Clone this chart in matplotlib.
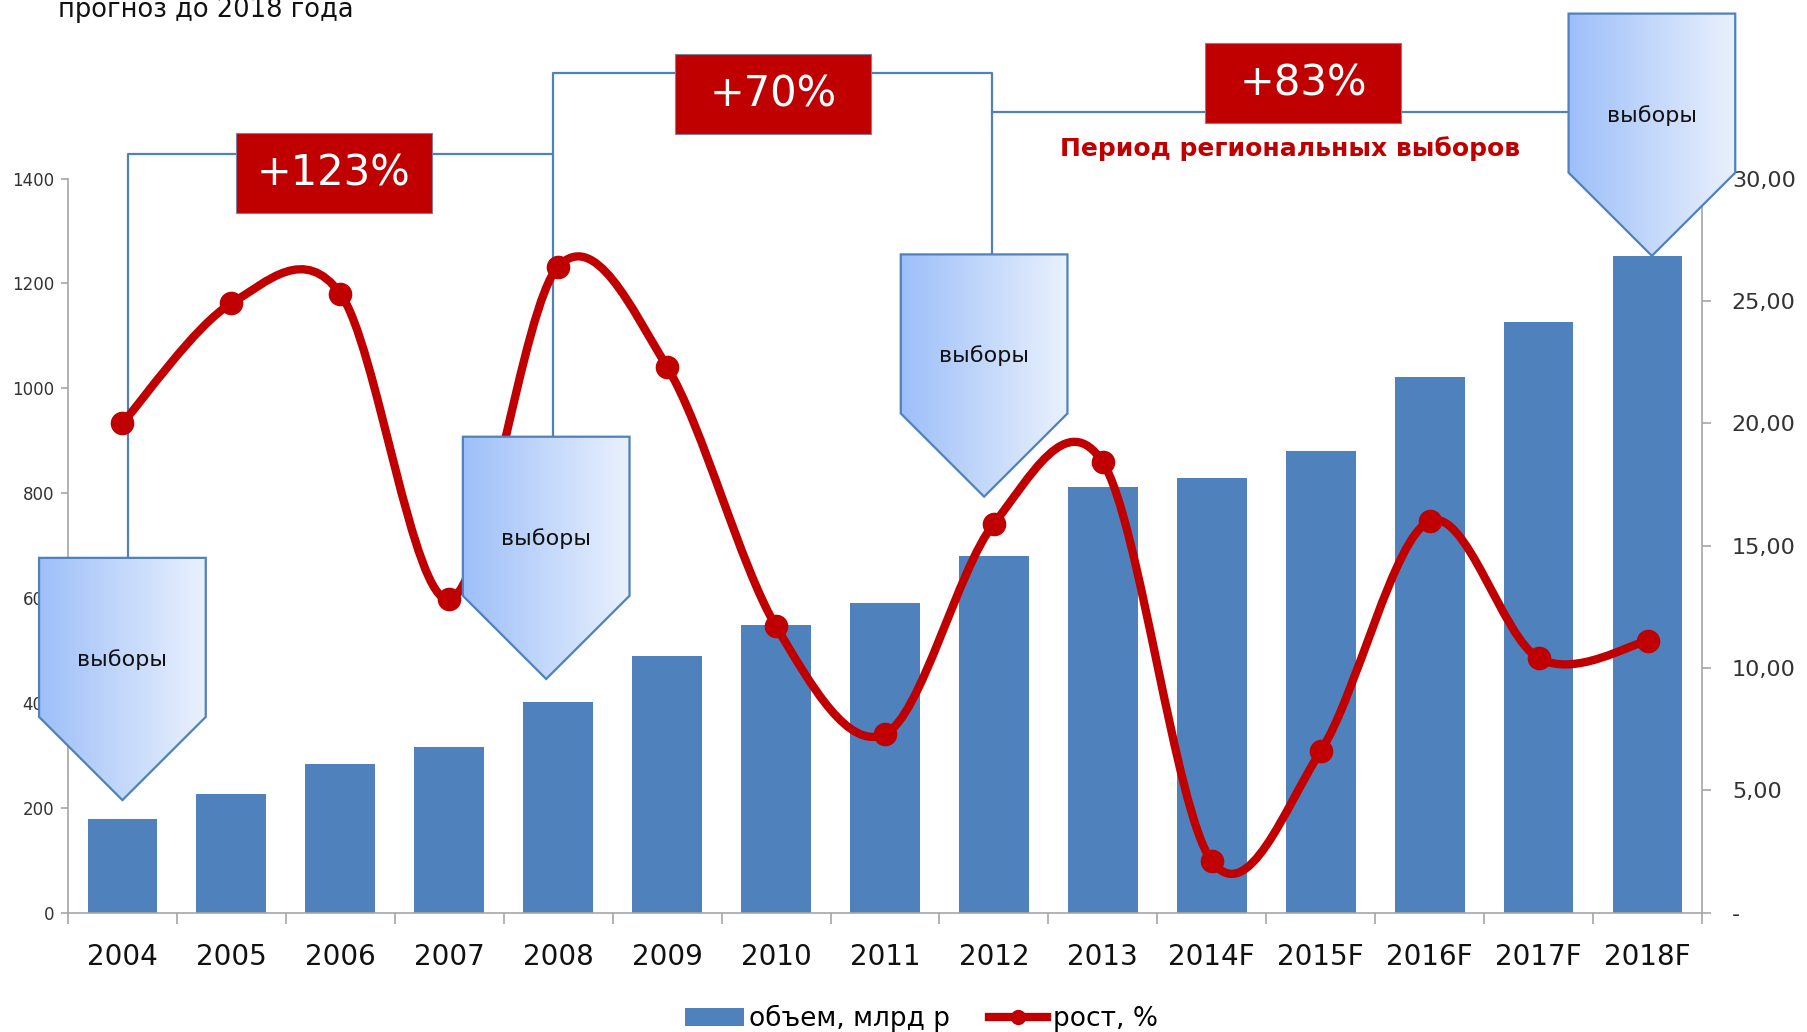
import numpy as np
import matplotlib
matplotlib.use('Agg')
import matplotlib.pyplot as plt
from matplotlib.patches import Polygon, Rectangle, Patch, PathPatch
from matplotlib.path import Path
from matplotlib.lines import Line2D
from matplotlib.ticker import FuncFormatter
from matplotlib.colors import LinearSegmentedColormap

# data
years = ['2004', '2005', '2006', '2007', '2008', '2009', '2010', '2011',
         '2012', '2013', '2014F', '2015F', '2016F', '2017F', '2018F']
volume = [178, 226, 283, 316, 402, 490, 549, 591, 681, 811, 829, 881, 1022, 1127, 1253]
growth = [20.0, 24.9, 25.3, 12.8, 26.4, 22.3, 11.7, 7.3, 15.9, 18.4, 2.1, 6.6, 16.0, 10.4, 11.1]

callout_label = 'выборы'
gains = ['+123%', '+70%', '+83%']
period_label = 'Период региональных выборов'
title = 'прогноз до 2018 года'
legend_labels = ['объем, млрд р', 'рост, %']

BLUE = '#4F81BD'
RED = '#C00000'
GRAY = '#A6A6A6'

plt.rcParams['font.family'] = ['DejaVu Sans']

L, B, W, H = 0.0376, 0.1156, 0.9043, 0.7114
XMIN, XMAX, YMAX = -0.5, len(years) - 0.5, 30

fig = plt.figure(figsize=(18.07, 10.32), dpi=100)
ax1 = fig.add_axes([L, B, W, H])
x = np.arange(len(years))

ax1.bar(x, volume, width=0.64, color=BLUE, zorder=2)
ax1.set_xlim(XMIN, XMAX)
ax1.set_ylim(0, 1400)
ax1.set_yticks(range(0, 1401, 200))
ax1.set_xticks(x)
ax1.set_xticklabels(years)
ax1.set_xticks(np.arange(-0.5, len(years), 1), minor=True)
ax1.tick_params(axis='x', which='major', length=0, pad=22, labelsize=20, labelcolor='#111111')
ax1.tick_params(axis='x', which='minor', length=8, color=GRAY, width=1.2)
ax1.tick_params(axis='y', length=5, color=GRAY, width=1.2, labelsize=12, pad=5, labelcolor='#333333')
for s in ['top', 'right']:
    ax1.spines[s].set_visible(False)
for s in ['left', 'bottom']:
    ax1.spines[s].set_color(GRAY)
    ax1.spines[s].set_linewidth(1.2)

ax2 = ax1.twinx()
ax2.set_ylim(0, YMAX)
ax2.set_yticks(range(0, 31, 5))
ax2.yaxis.set_major_formatter(FuncFormatter(lambda v, p: '-' if v == 0 else f'{v:.2f}'.replace('.', ',')))
ax2.tick_params(axis='y', length=6.5, color=GRAY, width=1.2, labelsize=16, pad=15, labelcolor='#333333')
for s in ['top', 'left', 'bottom']:
    ax2.spines[s].set_visible(False)
ax2.spines['right'].set_color(GRAY)
ax2.spines['right'].set_linewidth(1.2)

# smoothed growth line (cubic bezier through the points, like Excel smoothing)
pts = np.column_stack([x, growth]).astype(float)
n = len(pts)
verts = [pts[0]]
codes = [Path.MOVETO]
for i in range(n - 1):
    p0 = pts[i - 1] if i > 0 else pts[i]
    p3 = pts[i + 2] if i + 2 < n else pts[i + 1]
    verts += [pts[i] + (pts[i + 1] - p0) / 6, pts[i + 1] - (p3 - pts[i]) / 6, pts[i + 1]]
    codes += [Path.CURVE4] * 3
ax2.add_patch(PathPatch(Path(verts, codes), fill=False, edgecolor=RED, lw=6,
                        capstyle='round', joinstyle='round', zorder=3))
ax2.plot(x, growth, 'o', color=RED, ms=16, zorder=4)

# brackets between elections
bracket_kw = dict(color=BLUE, lw=1.6, clip_on=False, zorder=2)
ax2.plot([0.05, 0.05, 3.95, 3.95], [14.5, 31.0, 31.0, 19.45], **bracket_kw)
ax2.plot([3.95, 3.95, 7.98, 7.98], [31.0, 34.3, 34.3, 26.9], **bracket_kw)
ax2.plot([7.98, 13.27], [32.7, 32.7], **bracket_kw)
ax2.set_xlim(XMIN, XMAX)
ax2.set_ylim(0, YMAX)

# overlay covering the whole figure, same data coordinates as ax2
ax3 = fig.add_axes([0, 0, 1, 1])
span = XMAX - XMIN
ax3.set_xlim(XMIN - L / W * span, XMIN + (1 - L) / W * span)
ax3.set_ylim(-B / H * YMAX, (1 - B) / H * YMAX)
ax3.axis('off')

# election callouts (down arrows with gradient)
cmap = LinearSegmentedColormap.from_list('callout', ['#9DBFF9', '#EAF1FD'])
grad = np.linspace(0, 1, 256).reshape(1, -1)


def callout(ax, xc, ytop):
    hw, h, d = 0.765, 6.5, 3.4
    shape = [(xc - hw, ytop), (xc + hw, ytop), (xc + hw, ytop - h),
             (xc, ytop - h - d), (xc - hw, ytop - h)]
    poly = Polygon(shape, closed=True, facecolor='none', edgecolor=BLUE,
                   lw=1.6, zorder=6)
    ax.add_patch(poly)
    im = ax.imshow(grad, cmap=cmap, extent=[xc - hw, xc + hw, ytop - h - d, ytop],
                   aspect='auto', zorder=5, interpolation='bilinear')
    im.set_clip_path(poly)
    ax.text(xc, ytop - 4.15, callout_label, ha='center', va='center',
            fontsize=16, color='#111111', zorder=7)


for xc, ytop in [(0.0, 14.5), (3.89, 19.45), (7.91, 26.9), (14.04, 36.74)]:
    callout(ax3, xc, ytop)

# growth boxes
for label, (bx, by) in zip(gains, [(1.04, 28.6), (5.07, 31.84), (9.94, 32.27)]):
    ax3.add_patch(Rectangle((bx, by), 1.8, 3.25, facecolor=RED, edgecolor='#7F7F9F',
                            lw=0.8, zorder=8))
    ax3.text(bx + 0.9, by + 1.6, label, color='white', fontsize=30, ha='center',
             va='center', zorder=9)

ax3.text(10.72, 31.23, period_label, color=RED, fontsize=18, fontweight='bold',
         ha='center', va='center', zorder=9)

ax3.set_xlim(XMIN - L / W * span, XMIN + (1 - L) / W * span)
ax3.set_ylim(-B / H * YMAX, (1 - B) / H * YMAX)

fig.text(0.032, 0.990, title, fontsize=18.5, va='center', color='#111111')

handles = [Patch(facecolor=BLUE), Line2D([0], [0], color=RED, lw=6, marker='o', ms=10)]
fig.legend(handles, legend_labels, loc='center', bbox_to_anchor=(0.51, 0.013), ncol=2,
           frameon=False, fontsize=19, handlelength=2.2, handletextpad=0.2, columnspacing=1.5)

fig.savefig('out.png', dpi=100)
